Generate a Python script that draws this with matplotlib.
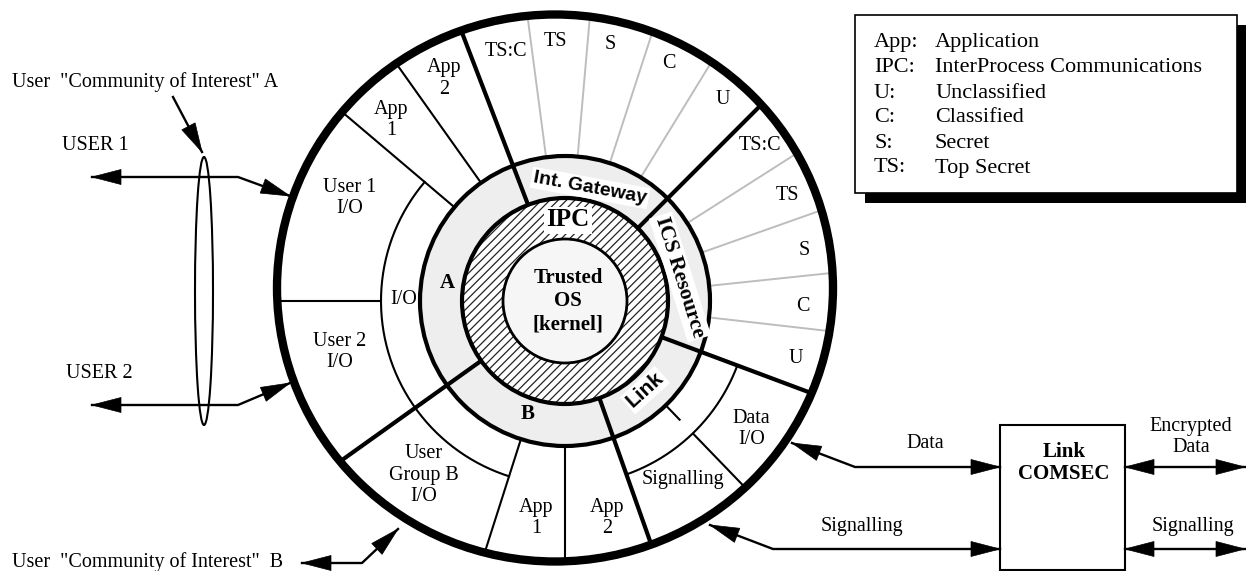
import numpy as np
import matplotlib.pyplot as plt
from matplotlib.patches import Circle, Ellipse, Wedge, Polygon, Rectangle

W, H = 1246, 571
plt.rcParams['font.family'] = ['Liberation Serif', 'DejaVu Serif']
plt.rcParams['hatch.linewidth'] = 0.9
SANS = ['Liberation Sans', 'DejaVu Sans']

# text content
top_levels = ["TS:C", "TS", "S", "C", "U"]
right_levels = ["TS:C", "TS", "S", "C", "U"]
outer_cells = ["App\n2", "App\n1", "User 1\nI/O", "I/O", "User 2\nI/O",
               "User\nGroup B\nI/O", "App\n1", "App\n2", "Signalling", "Data\nI/O"]
legend_abbr = ["App:", "IPC:", "U:", "C:", "S:", "TS:"]
legend_text = ["Application", "InterProcess Communications", "Unclassified",
               "Classified", "Secret", "Top Secret"]

# layout (pixels, angles in degrees, ccw from east)
CX, CY = 565, 301
EX, EY, EA, EB = 555, 288, 278, 273.5      # outer ring is a bit off-centre
R_KERNEL, R_IPC, R_GATE, R_MID = 62, 103, 145, 184
thick_angles = [111, 45, -20.5, -70.5, -144.5]
thin_angles = [139.7, 125.4, -107.7, -90]
top_grey = [97.5, 85, 72, 58.5]
right_grey = [32.5, 19.5, 6, -6.5]
top_level_pos = [(103.4, 256), (92, 260), (80, 260), (66.3, 259), (52, 256)]
right_level_pos = [(38.5, 249), (25.5, 246), (12, 245), (-1.4, 238), (-14.1, 238)]
outer_cell_pos = [(118.5, 253), (133.9, 251), (154.5, 239), (179.6, 161), (192.8, 231),
                  (-129, 224), (-97.6, 219), (-79, 221), (-56.6, 214), (-34.5, 226)]
FS = 14.5


def pol(r, a):
    t = np.radians(a)
    return CX + r * np.cos(t), CY - r * np.sin(t)


def to_outer(a):
    # distance along a ray from the centre to the outer ellipse
    t = np.radians(a)
    ux, uy = np.cos(t), -np.sin(t)
    dx, dy = CX - EX, CY - EY
    A = ux**2 / EA**2 + uy**2 / EB**2
    B = 2 * (dx * ux / EA**2 + dy * uy / EB**2)
    C = dx**2 / EA**2 + dy**2 / EB**2 - 1
    return (-B + np.sqrt(B**2 - 4 * A * C)) / (2 * A)


def radial(ax, a, r0, r1=None, **kw):
    if r1 is None:
        r1 = to_outer(a)
    p0, p1 = pol(r0, a), pol(r1, a)
    ax.plot([p0[0], p1[0]], [p0[1], p1[1]], solid_capstyle='butt', **kw)


def arc(ax, r, a0, a1, **kw):
    t = np.linspace(a0, a1, 200)
    x, y = pol(r, t)
    ax.plot(x, y, **kw)


def head(ax, tip, frm, length=29, half=7.5):
    tip, frm = np.array(tip, float), np.array(frm, float)
    u = (tip - frm) / np.linalg.norm(tip - frm)
    base = tip - u * length
    n = np.array([-u[1], u[0]])
    ax.add_patch(Polygon([tip, base + n * half, base - n * half], closed=True,
                         fc='black', ec='black', lw=0.5, zorder=6))


def connector(ax, pts, start=False, end=True):
    pts = np.array(pts, float)
    ax.plot(pts[:, 0], pts[:, 1], color='black', lw=1.7, zorder=5)
    if end:
        head(ax, pts[-1], pts[-2])
    if start:
        head(ax, pts[0], pts[1])


fig = plt.figure(figsize=(W / 100, H / 100), dpi=100)
ax = fig.add_axes([0, 0, 1, 1])
ax.set_xlim(0, W)
ax.set_ylim(H, 0)
ax.set_aspect('equal')
ax.axis('off')

# rings
ax.add_patch(Ellipse((EX, EY), 2 * EA, 2 * EB, fc='white', ec='none', zorder=0))
ax.add_patch(Wedge((CX, CY), R_GATE, 0, 360, width=R_GATE - R_IPC, fc='#eeeeee', ec='none', zorder=1))
ax.add_patch(Wedge((CX, CY), R_IPC, 0, 360, width=R_IPC - R_KERNEL, fc='white',
                   ec='#222222', hatch='////', lw=0, zorder=1))
ax.add_patch(Circle((CX, CY), R_KERNEL, fc='#f6f6f6', ec='black', lw=2.0, zorder=2))
ax.add_patch(Circle((CX, CY), R_IPC, fc='none', ec='black', lw=3.0, zorder=3))
ax.add_patch(Circle((CX, CY), R_GATE, fc='none', ec='black', lw=3.0, zorder=3))

# dividers
for a in top_grey + right_grey:
    radial(ax, a, R_GATE, color='#bdbdbd', lw=1.4, zorder=2)
for a in thin_angles:
    radial(ax, a, R_GATE, color='black', lw=1.5, zorder=3)
radial(ax, 180, R_MID, color='black', lw=1.5, zorder=3)
radial(ax, -46, R_MID, color='black', lw=1.5, zorder=3)
radial(ax, -46, R_GATE, 166, color='black', lw=1.5, zorder=3)
for a in thick_angles:
    radial(ax, a, R_IPC, color='black', lw=3.0, zorder=4)
arc(ax, R_MID, 139.7, 252.3, color='black', lw=1.5, zorder=3)
arc(ax, R_MID, -70.5, -20.5, color='black', lw=1.5, zorder=3)
ax.add_patch(Ellipse((EX, EY), 2 * EA, 2 * EB, fc='none', ec='black', lw=6.0, zorder=7))

# ring labels
for txt, (a, r) in zip(top_levels, top_level_pos):
    ax.text(*pol(r, a), txt, ha='center', va='center', fontsize=FS, zorder=8)
for txt, (a, r) in zip(right_levels, right_level_pos):
    ax.text(*pol(r, a), txt, ha='center', va='center', fontsize=FS, zorder=8)
for txt, (a, r) in zip(outer_cells, outer_cell_pos):
    ax.text(*pol(r, a), txt, ha='center', va='center', fontsize=FS, zorder=8, linespacing=1.18)

white = dict(fc='white', ec='none', pad=1.5)
ax.text(CX + 3, CY, "Trusted\nOS\n[kernel]", ha='center', va='center', fontsize=15,
        fontweight='bold', linespacing=1.22, zorder=8)
ax.text(568, 220, "IPC", ha='center', va='center', fontsize=18, fontweight='bold', bbox=white, zorder=8)
ax.text(447, 283, "A", ha='center', va='center', fontsize=15, fontweight='bold', zorder=8)
ax.text(528, 414, "B", ha='center', va='center', fontsize=15, fontweight='bold', zorder=8)
ax.text(590, 188, "Int. Gateway", ha='center', va='center', fontsize=14, fontweight='bold',
        family=SANS, rotation=-10.5, rotation_mode='anchor', bbox=white, zorder=8)
ax.text(680, 277, "ICS Resource", ha='center', va='center', fontsize=15.5, fontweight='bold',
        rotation=-72.5, rotation_mode='anchor', bbox=white, zorder=8)
ax.text(645, 390, "Link", ha='center', va='center', fontsize=15, fontweight='bold',
        family=SANS, rotation=42, rotation_mode='anchor', bbox=white, zorder=8)

# left side: community A
ax.text(12, 82, 'User  "Community of Interest" A', ha='left', va='center', fontsize=FS)
connector(ax, [(173, 97), (202, 152)])
ax.add_patch(Ellipse((204, 291), 18, 268, fc='none', ec='black', lw=1.5, zorder=5))
ax.text(62, 145, "USER 1", ha='left', va='center', fontsize=FS)
ax.text(66, 373, "USER 2", ha='left', va='center', fontsize=FS)
connector(ax, [(92, 177), (238, 177), (290, 196)], start=True)
connector(ax, [(92, 405), (238, 405), (290, 383)], start=True)

# community B
ax.text(12, 562, 'User  "Community of Interest"  B', ha='left', va='center', fontsize=FS)
connector(ax, [(302, 563), (362, 563), (398, 529)], start=True)

# Link COMSEC
ax.add_patch(Rectangle((1000, 425), 125, 145, fc='white', ec='black', lw=1.5, zorder=5))
ax.text(1064, 463, "Link\nCOMSEC", ha='center', va='center', fontsize=15, fontweight='bold',
        linespacing=1.18, zorder=6)
ax.text(925, 443, "Data", ha='center', va='center', fontsize=FS)
connector(ax, [(792, 443), (855, 467), (1000, 467)], start=True)
ax.text(862, 527, "Signalling", ha='center', va='center', fontsize=FS)
connector(ax, [(710, 525), (773, 549), (1000, 549)], start=True)
ax.text(1191, 437, "Encrypted\nData", ha='center', va='center', fontsize=FS, linespacing=1.12)
connector(ax, [(1125, 467), (1245, 467)], start=True)
ax.text(1193, 527, "Signalling", ha='center', va='center', fontsize=FS)
connector(ax, [(1125, 549), (1245, 549)], start=True)

# legend box with drop shadow
ax.add_patch(Rectangle((865, 25), 382, 178, fc='black', ec='none', zorder=5))
ax.add_patch(Rectangle((855, 15), 382, 178, fc='white', ec='black', lw=1.2, zorder=6))
for i, (ab, tx) in enumerate(zip(legend_abbr, legend_text)):
    y = 43 + i * 25
    ax.text(874, y, ab, ha='left', va='center', fontsize=16, zorder=7)
    ax.text(935, y, tx, ha='left', va='center', fontsize=16, zorder=7)

fig.savefig("out.png", dpi=100)
